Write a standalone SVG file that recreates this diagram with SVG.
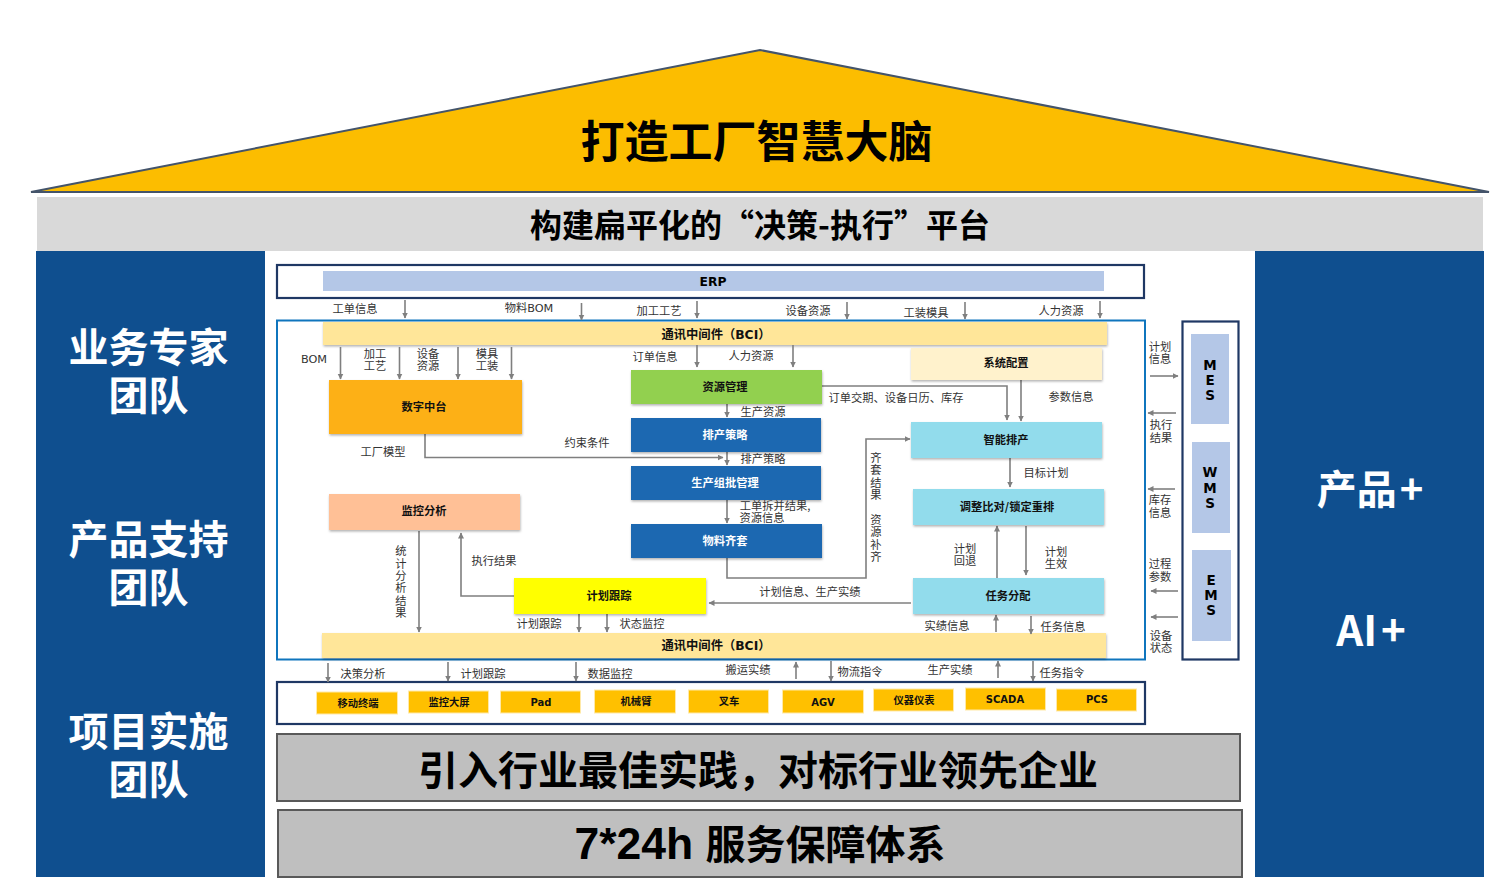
<svg xmlns="http://www.w3.org/2000/svg" width="1512" height="895" viewBox="0 0 1512 895">
<style>
text{font-family:"Noto Sans CJK SC","Liberation Sans",sans-serif;text-anchor:middle;fill:#111}
.h{font-weight:700;fill:#000}
.w{font-weight:700;fill:#fff}
.s{font-size:11.25px;fill:#333}
.b{font-size:11.25px;font-weight:700;fill:#111}
.d{font-size:10.3px;font-weight:700;fill:#111}
.lat{font-family:"DejaVu Sans","Noto Sans CJK SC",sans-serif}
.dl{font-size:10px;font-weight:700;fill:#111;font-family:"DejaVu Sans",sans-serif}
.bci{font-size:12.3px;font-weight:700;fill:#111;font-family:"DejaVu Sans","Noto Sans CJK SC",sans-serif}
.bw{font-size:11.25px;font-weight:700;fill:#fff}
.sys{font-size:13.5px;font-weight:700;fill:#000;font-family:"DejaVu Sans",sans-serif}
.or{fill:#ffc000;stroke:#ffe9a8;stroke-width:1}
.sh{filter:url(#ds)}
.c{fill:none;stroke:#7f7f7f;stroke-width:1.6;marker-end:url(#a)}
.p{fill:#b4c7e7}
</style>
<defs>
<marker id="a" markerWidth="7" markerHeight="7" refX="5.5" refY="3" orient="auto" markerUnits="userSpaceOnUse"><path d="M0 0L6 3L0 6Z" fill="#7f7f7f"/></marker>
<filter id="ds" x="-5%" y="-10%" width="110%" height="125%"><feDropShadow dx="0.5" dy="1.5" stdDeviation="0.8" flood-color="#000" flood-opacity="0.3"/></filter>
</defs>
<rect width="1512" height="895" fill="#fff"/>
<g id="roof"><path d="M31 192L760 50L1489 192Z" fill="#fcbd00" stroke="#44546a" stroke-width="2"/><text x="756.500" y="158" font-size="44" class="h">打造工厂智慧大脑</text></g>
<g id="platform"><rect x="37" y="197" width="1446" height="54" fill="#d9d9d9"/><text x="760" y="237" font-size="32" class="h">构建扁平化的“决策-执行”平台</text></g>
<g id="left-panel"><rect x="36" y="251" width="229" height="626" fill="#0f4f8f"/>
<text x="148.500" y="362" font-size="40" class="w">业务专家<tspan x="148.500" y="410">团队</tspan></text>
<text x="148.500" y="554" font-size="40" class="w">产品支持<tspan x="148.500" y="602">团队</tspan></text>
<text x="148.500" y="746" font-size="40" class="w">项目实施<tspan x="148.500" y="794">团队</tspan></text></g>
<g id="right-panel"><rect x="1255" y="251" width="229" height="626" fill="#0f4f8f"/>
<text x="1370" y="504" font-size="40" class="w">产品<tspan dx="3">+</tspan></text><text x="1371" y="646" font-size="42" class="w">AI<tspan dx="4">+</tspan></text></g>
<g id="best-practice"><rect x="277" y="734" width="963" height="67" fill="#bfbfbf" stroke="#595959" stroke-width="2"/><text x="758" y="785" font-size="40" class="h">引入行业最佳实践，对标行业领先企业</text></g>
<g id="service"><rect x="278" y="810" width="964" height="67" fill="#bfbfbf" stroke="#595959" stroke-width="2"/><text x="760" y="859" font-size="40" class="h"><tspan style="font-family:'Liberation Sans',sans-serif" font-size="44.500">7*24h </tspan><tspan>服务保障体系</tspan></text></g>

<g id="erp"><rect x="277" y="265" width="867" height="33" fill="#fff" stroke="#1f3864" stroke-width="2.2"/><rect x="323" y="271" width="781" height="20" class="p"/><text x="713" y="286" font-size="12.300" class="h lat">ERP</text></g>
<g id="frame"><rect x="277" y="320.500" width="868" height="339" fill="#fff" stroke="#0f75bd" stroke-width="2"/></g>
<g id="devices-frame"><rect x="277" y="682" width="868" height="42" fill="#fff" stroke="#1f3864" stroke-width="2.2"/></g>
<g id="systems-frame"><rect x="1182.500" y="321.500" width="56" height="338" fill="#fff" stroke="#1f3864" stroke-width="2.2"/></g>

<g id="bci-top"><rect x="323" y="322" width="784" height="23" fill="#ffe699" class="sh"/><text x="716" y="338.500" class="bci">通讯中间件（BCI）</text></g>
<g id="bci-bottom"><rect x="322" y="633" width="784" height="25" fill="#ffe699" class="sh"/><text x="716" y="650" class="bci">通讯中间件（BCI）</text></g>

<g id="connectors">
<path class="c" d="M405 300V318"/><path class="c" d="M581.500 303V320"/><path class="c" d="M697 301V318"/><path class="c" d="M847 302V319"/><path class="c" d="M965 302V319"/><path class="c" d="M1100 301V318"/>
<path class="c" d="M340.500 347V379"/><path class="c" d="M399.500 347V379"/><path class="c" d="M458 347V379"/><path class="c" d="M511.500 347V379"/>
<path class="c" d="M697 345V367"/><path class="c" d="M793 345V367"/>
<path class="c" d="M425 434V457.500H723"/><path class="c" d="M727 404V417"/><path class="c" d="M727 452V465"/><path class="c" d="M727 500V523"/>
<path class="c" d="M727 558V578H866V439H910"/>
<path class="c" d="M822 386H1007V420"/><path class="c" d="M1021 380V421"/><path class="c" d="M1010 458V487"/>
<path class="c" d="M997 578V526"/><path class="c" d="M1026 526V575"/><path class="c" d="M911 603H709"/>
<path class="c" d="M514 596H461V533"/><path class="c" d="M419 531V632"/>
<path class="c" d="M579 614V632"/><path class="c" d="M607 612V632"/><path class="c" d="M996 632V615"/><path class="c" d="M1031 616V634"/>
<path class="c" d="M328 663V682"/><path class="c" d="M448 662V681"/><path class="c" d="M576 662V681"/><path class="c" d="M796 679V662"/><path class="c" d="M831 661V681"/><path class="c" d="M998 678V661"/><path class="c" d="M1033 661V681"/>
<path class="c" d="M1150 376H1178"/><path class="c" d="M1176 413H1148"/><path class="c" d="M1175 489H1148"/><path class="c" d="M1178 591H1151"/><path class="c" d="M1178 617H1151"/>
</g>

<g id="digital"><rect x="329" y="380" width="193" height="54" fill="#fdb012" class="sh"/><text x="424" y="411" class="b">数字中台</text></g>
<g id="resource"><rect x="631" y="370" width="191" height="34" fill="#92d050" class="sh"/><text x="725" y="391" class="b">资源管理</text></g>
<g id="strategy"><rect x="631" y="418" width="190" height="34" fill="#1f67b1" class="sh"/><text x="725" y="439" class="bw">排产策略</text></g>
<g id="batch"><rect x="631" y="466" width="190" height="34" fill="#1f67b1" class="sh"/><text x="725" y="487" class="bw">生产组批管理</text></g>
<g id="material"><rect x="631" y="524" width="191" height="34" fill="#1f67b1" class="sh"/><text x="725" y="545" class="bw">物料齐套</text></g>
<g id="config"><rect x="911" y="348" width="191" height="32" fill="#fff2cc" class="sh"/><text x="1006" y="367" class="b">系统配置</text></g>
<g id="aps"><rect x="911" y="422" width="191" height="36" fill="#92dcec" class="sh"/><text x="1006" y="444" class="b">智能排产</text></g>
<g id="adjust"><rect x="913" y="489" width="191" height="36" fill="#92dcec" class="sh"/><text x="1007" y="511" class="b">调整比对/锁定重排</text></g>
<g id="assign"><rect x="913" y="578" width="191" height="36" fill="#92dcec" class="sh"/><text x="1008" y="600" class="b">任务分配</text></g>
<g id="monitor"><rect x="329" y="494" width="191" height="36" fill="#ffc096" class="sh"/><text x="424" y="515" class="b">监控分析</text></g>
<g id="track"><rect x="514" y="578" width="192" height="36" fill="#ffff00" class="sh"/><text x="609" y="600" class="b">计划跟踪</text></g>

<g id="d1"><rect x="316.500" y="692" width="81" height="22" class="or"/><text x="358" y="707" class="d">移动终端</text></g>
<g id="d2"><rect x="408.500" y="691" width="80" height="22" class="or"/><text x="449" y="706" class="d">监控大屏</text></g>
<g id="d3"><rect x="500.500" y="691" width="80" height="22" class="or"/><text x="541" y="706" class="dl">Pad</text></g>
<g id="d4"><rect x="594.500" y="690" width="81" height="23" class="or"/><text x="636" y="705" class="d">机械臂</text></g>
<g id="d5"><rect x="688.500" y="690" width="80" height="23" class="or"/><text x="729" y="705" class="d">叉车</text></g>
<g id="d6"><rect x="782.500" y="690" width="81" height="23" class="or"/><text x="823" y="706" class="dl">AGV</text></g>
<g id="d7"><rect x="873.500" y="689" width="80" height="22" class="or"/><text x="914" y="704" class="d">仪器仪表</text></g>
<g id="d8"><rect x="965.500" y="688" width="80" height="22" class="or"/><text x="1005" y="703" class="dl">SCADA</text></g>
<g id="d9"><rect x="1056.500" y="689" width="80" height="22" class="or"/><text x="1097" y="703" class="dl">PCS</text></g>

<g id="mes"><rect x="1191" y="334" width="38" height="90" class="p"/><text x="1210" y="369.500" class="sys">M<tspan x="1210" y="385">E</tspan><tspan x="1210" y="400">S</tspan></text></g>
<g id="wms"><rect x="1192" y="442" width="38" height="91" class="p"/><text x="1210" y="477" class="sys">W<tspan x="1210" y="493">M</tspan><tspan x="1210" y="508">S</tspan></text></g>
<g id="ems"><rect x="1192" y="550" width="39" height="91" class="p"/><text x="1211" y="585" class="sys">E<tspan x="1211" y="600">M</tspan><tspan x="1211" y="615">S</tspan></text></g>

<g id="labels">
<text class="s" x="355" y="313">工单信息</text><text class="s lat" x="529" y="312">物料BOM</text><text class="s" x="659" y="315">加工工艺</text><text class="s" x="808" y="315">设备资源</text><text class="s" x="926" y="317">工装模具</text><text class="s" x="1061" y="315">人力资源</text>
<text class="s lat" x="314" y="363">BOM</text>
<text class="s" x="375" y="358">加工<tspan x="375" y="370">工艺</tspan></text>
<text class="s" x="428" y="358">设备<tspan x="428" y="370">资源</tspan></text>
<text class="s" x="487" y="358">模具<tspan x="487" y="370">工装</tspan></text>
<text class="s" x="655" y="361">订单信息</text><text class="s" x="751" y="360">人力资源</text>
<text class="s" x="763" y="416">生产资源</text><text class="s" x="763" y="463">排产策略</text>
<text class="s" x="383" y="456">工厂模型</text><text class="s" x="587" y="447">约束条件</text>
<text class="s" x="775" y="510">工单拆并结果,<tspan x="762" y="522">资源信息</tspan></text>
<text class="s" x="896" y="401.500">订单交期、设备日历、库存</text><text class="s" x="1071" y="401">参数信息</text><text class="s" x="1046" y="477">目标计划</text>
<text class="s" x="876" y="462">齐<tspan x="876" y="474">套</tspan><tspan x="876" y="487">结</tspan><tspan x="876" y="499">果</tspan></text>
<text class="s" x="876" y="524">资<tspan x="876" y="536">源</tspan><tspan x="876" y="549">补</tspan><tspan x="876" y="561">齐</tspan></text>
<text class="s" x="965" y="553">计划<tspan x="965" y="565">回退</tspan></text>
<text class="s" x="1056" y="556">计划<tspan x="1056" y="568">生效</tspan></text>
<text class="s" x="810" y="596">计划信息、生产实绩</text>
<text class="s" x="401" y="555">统<tspan x="401" y="568">计</tspan><tspan x="401" y="580">分</tspan><tspan x="401" y="592">析</tspan><tspan x="401" y="605">结</tspan><tspan x="401" y="617">果</tspan></text>
<text class="s" x="494" y="565">执行结果</text><text class="s" x="539" y="628">计划跟踪</text><text class="s" x="642" y="628">状态监控</text>
<text class="s" x="947" y="630">实绩信息</text><text class="s" x="1063" y="631">任务信息</text>
<text class="s" x="363" y="678">决策分析</text><text class="s" x="483" y="678">计划跟踪</text><text class="s" x="610" y="678">数据监控</text><text class="s" x="748" y="674">搬运实绩</text><text class="s" x="860" y="676">物流指令</text><text class="s" x="950" y="674">生产实绩</text><text class="s" x="1062" y="677">任务指令</text>
<text class="s" x="1160" y="351">计划<tspan x="1160" y="363">信息</tspan></text>
<text class="s" x="1161" y="429">执行<tspan x="1161" y="442">结果</tspan></text>
<text class="s" x="1160" y="504">库存<tspan x="1160" y="517">信息</tspan></text>
<text class="s" x="1160" y="568">过程<tspan x="1160" y="581">参数</tspan></text>
<text class="s" x="1161" y="640">设备<tspan x="1161" y="652">状态</tspan></text>
</g>
</svg>
